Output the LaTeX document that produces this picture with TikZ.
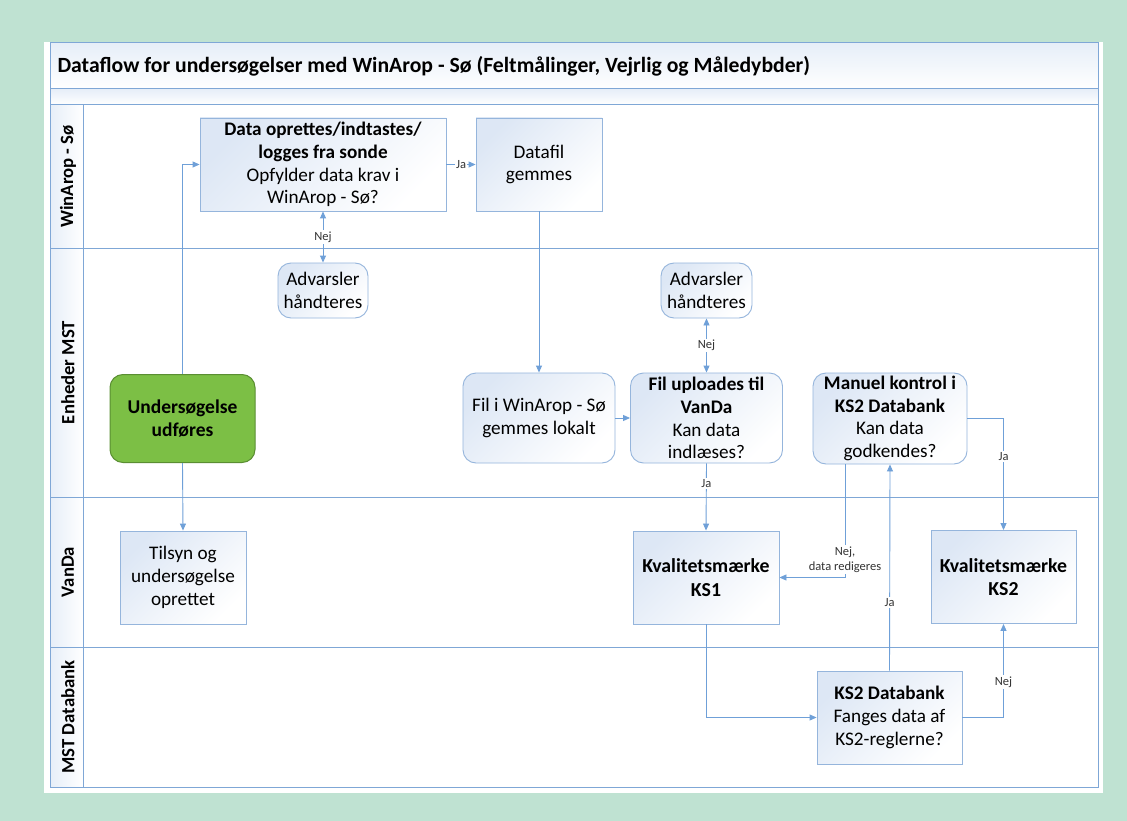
\documentclass[tikz,border=0pt]{standalone}
\usepackage{fontspec}
\setmainfont{Carlito}
\usetikzlibrary{arrows.meta}
\definecolor{bggreen}{HTML}{BFE2D2}
\definecolor{frameblue}{HTML}{7FA7D6}
\definecolor{lineblue}{HTML}{6FA0D8}
\definecolor{boxborder}{HTML}{95B5DC}
\definecolor{boxshade}{HTML}{DDE7F5}
\definecolor{bandshade}{HTML}{E6EEF8}
\definecolor{nodegreen}{HTML}{7CBF45}
\definecolor{greenborder}{HTML}{5A8E32}
\tikzset{
  box/.style={draw=boxborder, line width=0.9pt, top color=boxshade, bottom color=white, shading angle=45,
    align=center, inner sep=2pt, font=\fontsize{19.2}{22.8}\selectfont},
  rbox/.style={box, rounded corners=13pt},
  gbox/.style={draw=greenborder, line width=1pt, fill=nodegreen, rounded corners=13pt,
    align=center, inner sep=2pt, font=\fontsize{19.5}{23.5}\selectfont\bfseries},
  conn/.style={draw=lineblue, line width=0.9pt, -{Triangle[length=7pt,width=6pt]}},
  dconn/.style={draw=lineblue, line width=0.9pt, {Triangle[length=7pt,width=6pt]}-{Triangle[length=7pt,width=6pt]}},
  lbl/.style={fill=white, inner sep=1.5pt, font=\fontsize{12.5}{15}\selectfont, text=black!80, align=center},
  frame/.style={draw=frameblue, line width=1pt},
  lanelabel/.style={rotate=90, font=\fontsize{18.7}{20}\selectfont\bfseries},
}
\begin{document}
\begin{tikzpicture}[x=1pt,y=-1pt]
\useasboundingbox (0,0) rectangle (1127,821);
\fill[bggreen] (0,0) rectangle (1127,821);
\fill[white] (44,42) rectangle (1103,793);
% bands
\shade[top color=bandshade, bottom color=white] (50,43) rectangle (1098,89);
\shade[top color=bandshade, bottom color=white] (50,89) rectangle (1098,105);
\shade[left color=bandshade, right color=white] (50,105) rectangle (83,787);
\draw[frame] (50,43) rectangle (1098,787);
\draw[frame] (50,89) -- (1098,89);
\draw[frame] (50,105) -- (1098,105);
\draw[frame] (50,248) -- (1098,248);
\draw[frame] (50,497) -- (1098,497);
\draw[frame] (50,647) -- (1098,647);
\draw[frame] (83,105) -- (83,787);
% title
\node[anchor=west, font=\fontsize{21.7}{24}\selectfont\bfseries] (title) at (54,66)
  {Dataflow for undersøgelser med WinArop - Sø (Feltmålinger, Vejrlig og Måledybder)};
% lane labels
\node[lanelabel] (l1) at (68,176.5) {WinArop - Sø};
\node[lanelabel] (l2) at (68,372.5) {Enheder MST};
\node[lanelabel] (l3) at (68,572) {VanDa};
\node[lanelabel] (l4) at (68,717) {MST Databank};
% nodes
\node[box, minimum width=246pt, minimum height=93pt] (data) at (323,164.5)
  {\textbf{Data oprettes/indtastes/}\\\textbf{logges fra sonde}\\Opfylder data krav i\\WinArop - Sø?};
\node[box, minimum width=126pt, minimum height=93pt] (datafil) at (539,164.5) {Datafil\\gemmes};
\node[rbox, minimum width=90pt, minimum height=55pt] (adv1) at (323,290.5) {Advarsler\\håndteres};
\node[rbox, minimum width=91pt, minimum height=55pt] (adv2) at (706.5,290.5) {Advarsler\\håndteres};
\node[rbox, minimum width=152pt, minimum height=90pt] (lokalt) at (539,418) {Fil i WinArop - Sø\\gemmes lokalt};
\node[rbox, minimum width=152pt, minimum height=90pt] (upload) at (706.5,418)
  {\textbf{Fil uploades til}\\\textbf{VanDa}\\Kan data\\indlæses?};
\node[rbox, minimum width=154pt, minimum height=91pt] (manuel) at (890,418.5)
  {\textbf{Manuel kontrol i}\\\textbf{KS2 Databank}\\Kan data\\godkendes?};
\node[gbox, minimum width=145pt, minimum height=88pt] (udfor) at (182.5,418.5) {Undersøgelse\\udføres};
\node[box, minimum width=126pt, minimum height=93pt] (tilsyn) at (183,577.5) {Tilsyn og\\undersøgelse\\oprettet};
\node[box, minimum width=146pt, minimum height=93pt, font=\fontsize{19.8}{23.5}\selectfont\bfseries] (ks1) at (706,577.5) {Kvalitetsmærke\\KS1};
\node[box, minimum width=145pt, minimum height=93pt, font=\fontsize{19.8}{23.5}\selectfont\bfseries] (ks2) at (1003.5,577) {Kvalitetsmærke\\KS2};
\node[box, minimum width=145pt, minimum height=93pt] (ks2db) at (889.5,717.5)
  {\textbf{KS2 Databank}\\Fanges data af\\KS2-reglerne?};
% connectors
\draw[conn] (udfor.north) |- (data.west);
\draw[conn] (udfor.south) -- (tilsyn.north);
\draw[dconn] (data.south) -- node[lbl] {Nej} (adv1.north);
\draw[conn] (data.east) -- node[lbl] {Ja} (datafil.west);
\draw[conn] (datafil.south) -- (lokalt.north);
\draw[conn] (lokalt.east) -- (upload.west);
\draw[dconn] (upload.north) -- node[lbl] {Nej} (adv2.south);
\draw[conn] (upload.south) -- node[lbl, pos=0.3] {Ja} (ks1.north);
\draw[conn] (manuel.east) -| node[lbl, pos=0.67] {Ja} (ks2.north);
\coordinate (mb) at ([xshift=-45pt]manuel.south);
\draw[conn] (mb) |- node[lbl, pos=0.42] {Nej,\\data redigeres} (ks1.east);
\draw[conn] (ks2db.north) -- node[lbl, pos=0.33] {Ja} (manuel.south);
\draw[conn] (ks1.south) |- (ks2db.west);
\draw[conn] (ks2db.east) -| node[lbl, pos=0.69] {Nej} (ks2.south);
\end{tikzpicture}
\end{document}
